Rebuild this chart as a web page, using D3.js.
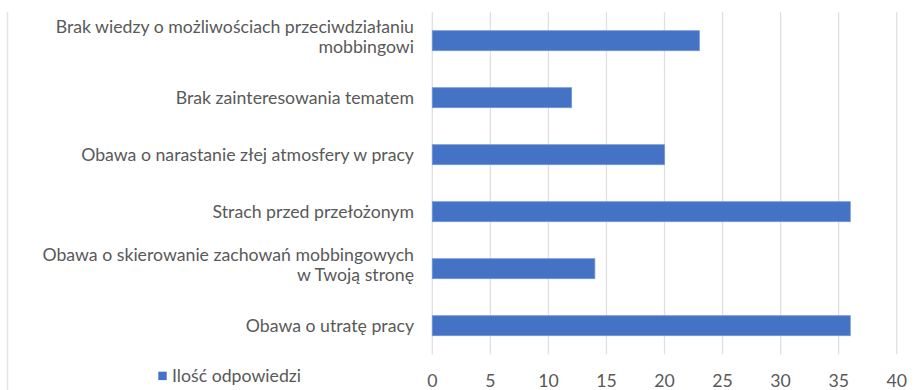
<!DOCTYPE html>
<html>
<head>
<meta charset="utf-8">
<script src="https://cdn.jsdelivr.net/npm/d3@7"></script>
<style>
  html, body { margin: 0; padding: 0; background: #fff; }
  svg { display: block; }
  text { font-family: Lato, "Open Sans", sans-serif; fill: #595959; }
</style>
</head>
<body>
<svg id="chart" width="922" height="390"></svg>
<script>
// Reasons for not reacting to workplace mobbing (number of answers)
const categories = [
  ["Brak wiedzy o możliwościach przeciwdziałaniu", "mobbingowi"],
  ["Brak zainteresowania tematem"],
  ["Obawa o narastanie złej atmosfery w pracy"],
  ["Strach przed przełożonym"],
  ["Obawa o skierowanie zachowań mobbingowych", "w Twoją stronę"],
  ["Obawa o utratę pracy"]
];
const values = [23, 12, 20, 36, 14, 36];
const xTicks = [0, 5, 10, 15, 20, 25, 30, 35, 40];
const seriesName = "Ilość odpowiedzi";

const svg = d3.select("#chart");
const W = 922, H = 390;
const margin = { left: 432.3, right: W - 896.7, top: 12.2, bottom: H - 354.2 };
const fontSize = 17.7;
const lineGap = 20;

const x = d3.scaleLinear().domain([0, 40]).range([margin.left, W - margin.right]);
const y = d3.scaleBand()
  .domain(d3.range(categories.length))
  .range([margin.top, H - margin.bottom])
  .paddingInner(0.65)
  .paddingOuter(0.325);

// frame line on the left edge
svg.append("line")
  .attr("x1", 7.5).attr("x2", 7.5)
  .attr("y1", 12).attr("y2", 390)
  .attr("stroke", "#e3e3e3").attr("stroke-width", 1.5);

// vertical gridlines
svg.append("g")
  .selectAll("line")
  .data(xTicks)
  .join("line")
  .attr("x1", d => x(d)).attr("x2", d => x(d))
  .attr("y1", margin.top).attr("y2", H - margin.bottom)
  .attr("stroke", "#e0e0e0").attr("stroke-width", 1.3);

// bars
svg.append("g")
  .selectAll("rect")
  .data(values)
  .join("rect")
  .attr("x", x(0))
  .attr("y", (d, i) => y(i))
  .attr("width", d => x(d) - x(0))
  .attr("height", y.bandwidth())
  .attr("fill", "#4472C4")
  .attr("stroke", "#6f93d3")
  .attr("stroke-width", 0.8);

// category labels (multi-line labels sit slightly above the bar centre)
const labels = svg.append("g")
  .selectAll("text")
  .data(categories)
  .join("text")
  .attr("text-anchor", "end")
  .attr("font-size", fontSize)
  .attr("x", 414)
  .attr("y", (d, i) => y(i) + y.bandwidth() / 2);

labels.selectAll("tspan")
  .data(d => d.map((line, j) => ({ line, j, n: d.length })))
  .join("tspan")
  .attr("x", 414)
  .attr("dy", d => d.j === 0 ? (6 - (d.n - 1) * (lineGap / 2 + 4)) + "px" : lineGap + "px")
  .text(d => d.line);

// x axis tick labels
svg.append("g")
  .selectAll("text")
  .data(xTicks)
  .join("text")
  .attr("text-anchor", "middle")
  .attr("font-size", fontSize)
  .attr("x", d => x(d))
  .attr("y", 387)
  .text(d => d);

// legend
const legend = svg.append("g");
legend.append("rect")
  .attr("x", 158.3).attr("y", 371.7)
  .attr("width", 8.4).attr("height", 8.4)
  .attr("fill", "#4472C4");
legend.append("text")
  .attr("x", 172).attr("y", 382)
  .attr("font-size", fontSize)
  .text(seriesName);
</script>
</body>
</html>
